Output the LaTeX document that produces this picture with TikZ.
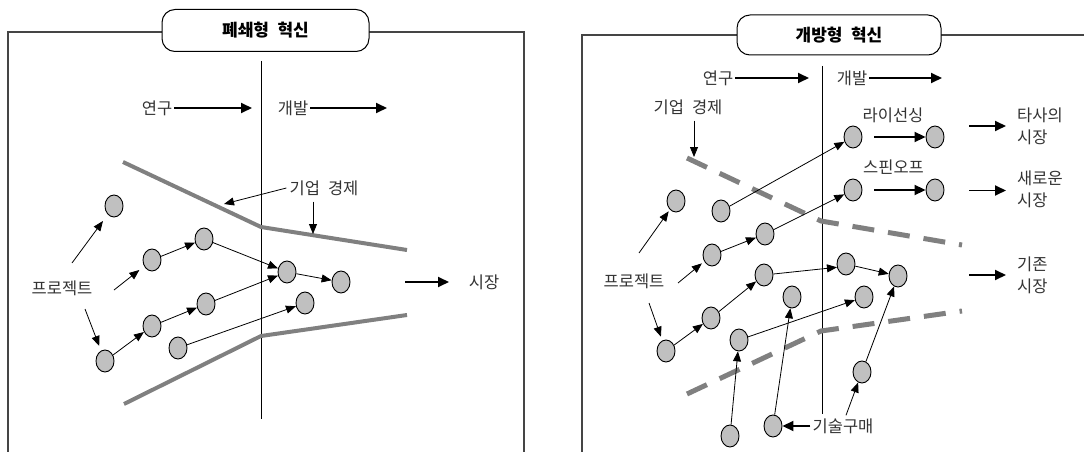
\documentclass[tikz,border=0pt]{standalone}
\usepackage{fontspec}
\newfontfamily\kr[WordSpace=2.2]{Noto Sans CJK KR}
\usetikzlibrary{shapes.geometric,arrows.meta}
\definecolor{dotgray}{HTML}{C0C0C0}
\definecolor{boundgray}{HTML}{808080}
\definecolor{framegray}{HTML}{454545}
\definecolor{txt}{HTML}{333333}
\tikzset{
  dot/.style={ellipse, draw=black, fill=dotgray, line width=0.9pt, minimum width=18pt, minimum height=22pt, inner sep=0pt},
  arr/.style={-{Triangle[length=10pt,width=8pt]}, line width=0.8pt},
  bigarr/.style={-{Triangle[length=11pt,width=10pt]}, line width=1.8pt},
  bound/.style={line width=4pt, draw=boundgray},
  dbound/.style={line width=5pt, draw=boundgray, dash pattern=on 22pt off 14pt},
  lbl/.style={font=\kr\fontsize{16.5}{21.7}\selectfont, inner sep=0pt, text=txt},
  titlebox/.style={rounded corners=13pt, draw=black, fill=white, line width=1pt, font=\kr\bfseries\fontsize{17}{20}\selectfont},
  frameline/.style={line width=1.2pt, draw=framegray},
  vline/.style={line width=1pt, draw=black}
}
\begin{document}
\begin{tikzpicture}[x=1pt,y=-1pt]
\useasboundingbox (0,0) rectangle (1084,452);

% ---------------- frames ----------------
\draw[frameline] (8,452) -- (8,32) -- (524,32) -- (524,452);
\draw[frameline] (582,452) -- (582,35) -- (1084,35);

\node[titlebox, minimum width=207pt, minimum height=42pt] (tL) at (265.5,30.5) {폐쇄형 혁신};
\node[titlebox, minimum width=204pt, minimum height=40pt] (tR) at (839,35) {개방형 혁신};

% ---------------- LEFT PANEL ----------------
\coordinate (vLt) at (261,61);
\coordinate (vLb) at (261,419);
\draw[vline] (vLt) -- (vLb);

\node[lbl] (yL) at (157,108) {연구};
\coordinate (yLe) at (252,108);
\draw[bigarr] ([xshift=2pt]yL.east) -- (yLe);
\node[lbl] (dL) at (293,108) {개발};
\coordinate (dLe) at (387,108);
\draw[bigarr] ([xshift=2pt]dL.east) -- (dLe);

\draw[bound] (123,162) -- (261,227) -- (407,250);
\draw[bound] (124,404) -- (261,336) -- (407,315);

\node[lbl] (kL) at (324,188) {기업 경제};
\coordinate (kLa) at (224,204);
\coordinate (kLb) at (313,234);
\draw[arr] ([xshift=-3pt]kL.west) -- (kLa);
\draw[arr] ([yshift=-6pt]kLb |- kL.south) -- (kLb);

\node[lbl] (pL) at (62,288) {프로젝트};
\coordinate (pL1) at (72,263);
\coordinate (pL2) at (114,290);
\coordinate (pL4) at (85,309);

\node[dot] (lc1) at (114,206) {};
\node[dot] (lc2) at (152,260) {};
\node[dot] (lc3) at (204,239) {};
\node[dot] (lc4) at (105,361) {};
\node[dot] (lc5) at (152,326) {};
\node[dot] (lc6) at (206,304) {};
\node[dot] (lc7) at (178,348) {};
\node[dot] (lm1) at (287,272) {};
\node[dot] (lm2) at (341,282) {};
\node[dot] (lm3) at (305,303) {};

\draw[arr, shorten >=8pt] (pL1) -- (lc1);
\draw[arr, shorten >=6pt] (pL2) -- (lc2);
\draw[arr, shorten >=5pt] (pL4) -- (lc4);
\draw[arr] (lc2) -- (lc3);
\draw[arr] (lc3) -- (lm1);
\draw[arr] (lm1) -- (lm2);
\draw[arr] (lc4) -- (lc5);
\draw[arr] (lc5) -- (lc6);
\draw[arr] (lc6) -- (lm1);
\draw[arr] (lc7) -- (lm3);

\node[lbl] (sL) at (484,282) {시장};
\coordinate (mLs) at (405,282);
\coordinate (mLe) at (449,282);
\draw[bigarr] (mLs) -- (mLe);

% ---------------- RIGHT PANEL ----------------
\coordinate (vRt) at (822,66);
\coordinate (vRb) at (822,414);
\draw[vline] (vRt) -- (vRb);

\node[lbl] (yR) at (718,78) {연구};
\coordinate (yRe) at (809,78);
\draw[bigarr] ([xshift=2pt]yR.east) -- (yRe);
\node[lbl] (dR) at (852,78) {개발};
\coordinate (dRe) at (942,78);
\draw[bigarr] ([xshift=2pt]dR.east) -- (dRe);

\node[lbl] (kR) at (688,107) {기업 경제};
\coordinate (kRb) at (694,157);
\draw[arr] ([yshift=-6pt]kRb |- kR.south) -- (kRb);

\draw[dbound] (687,158) -- (821,221) -- (962,245);
\draw[dbound] (687,394) -- (821,331) -- (962,311);

\node[lbl] (lic) at (893,115) {라이선싱};
\node[lbl] (spn) at (893.5,167) {스핀오프};

\node[dot] (L1) at (853,137) {};
\node[dot] (L2) at (935,137) {};
\node[dot] (S1) at (853,190) {};
\node[dot] (S2) at (935,190) {};
\draw[bigarr, shorten <=12pt] (L1) -- (L2);
\draw[bigarr, shorten <=12pt] (S1) -- (S2);

\node[lbl, anchor=west, align=left] (mk1) at (1017,126) {타사의\\시장};
\node[lbl, anchor=west, align=left] (mk2) at (1017,189) {새로운\\시장};
\node[lbl, anchor=west, align=left] (mk3) at (1017,275) {기존\\시장};
\coordinate (a1s) at (969,126);  \coordinate (a1e) at (1006,126);
\coordinate (a2s) at (969,190.5);\coordinate (a2e) at (1006,190.5);
\coordinate (a3s) at (969,275);  \coordinate (a3e) at (1006,275);
\draw[bigarr] (a1s) -- (a1e);
\draw[bigarr] (a2s) -- (a2e);
\draw[bigarr] (a3s) -- (a3e);

\node[lbl] (pR) at (634,281) {프로젝트};
\coordinate (pR1) at (639,253);
\coordinate (pR2) at (678,283);
\coordinate (pR3) at (649,303);

\node[dot] (ra) at (676,201) {};
\node[dot] (rb) at (721,211) {};
\node[dot] (rc) at (712,255) {};
\node[dot] (rd) at (765,234) {};
\node[dot] (rl) at (666,351) {};
\node[dot] (rm) at (711,318) {};
\node[dot] (re) at (764,275) {};
\node[dot] (rj) at (739,340) {};
\node[dot] (rh) at (792,297) {};
\node[dot] (b1) at (730,436) {};
\node[dot] (b2) at (773,426) {};
\node[dot] (rf) at (846,264) {};
\node[dot] (rg) at (898,276) {};
\node[dot] (ri) at (864,297) {};
\node[dot] (rk) at (862,372) {};

\draw[arr, shorten >=2pt] (pR1) -- (ra);
\draw[arr, shorten >=3pt] (pR2) -- (rc);
\draw[arr, shorten >=4pt] (pR3) -- (rl);
\draw[arr] (rb) -- (L1);
\draw[arr] (rc) -- (rd);
\draw[arr] (rd) -- (S1);
\draw[arr] (rl) -- (rm);
\draw[arr] (rm) -- (re);
\draw[arr] (re) -- (rf.200);
\draw[arr] (rf) -- (rg);
\draw[arr] (rj) -- (ri);
\draw[arr] (b1) -- (rj);
\draw[arr] (b2) -- (rh);
\draw[arr] (rk) -- (rg);

\node[lbl] (gs) at (843,426) {기술구매};
\draw[bigarr] ([xshift=-2pt]gs.west) -- (b2);
\draw[arr] ([xshift=3pt,yshift=3pt]gs.north) -- (rk);
\end{tikzpicture}
\end{document}
